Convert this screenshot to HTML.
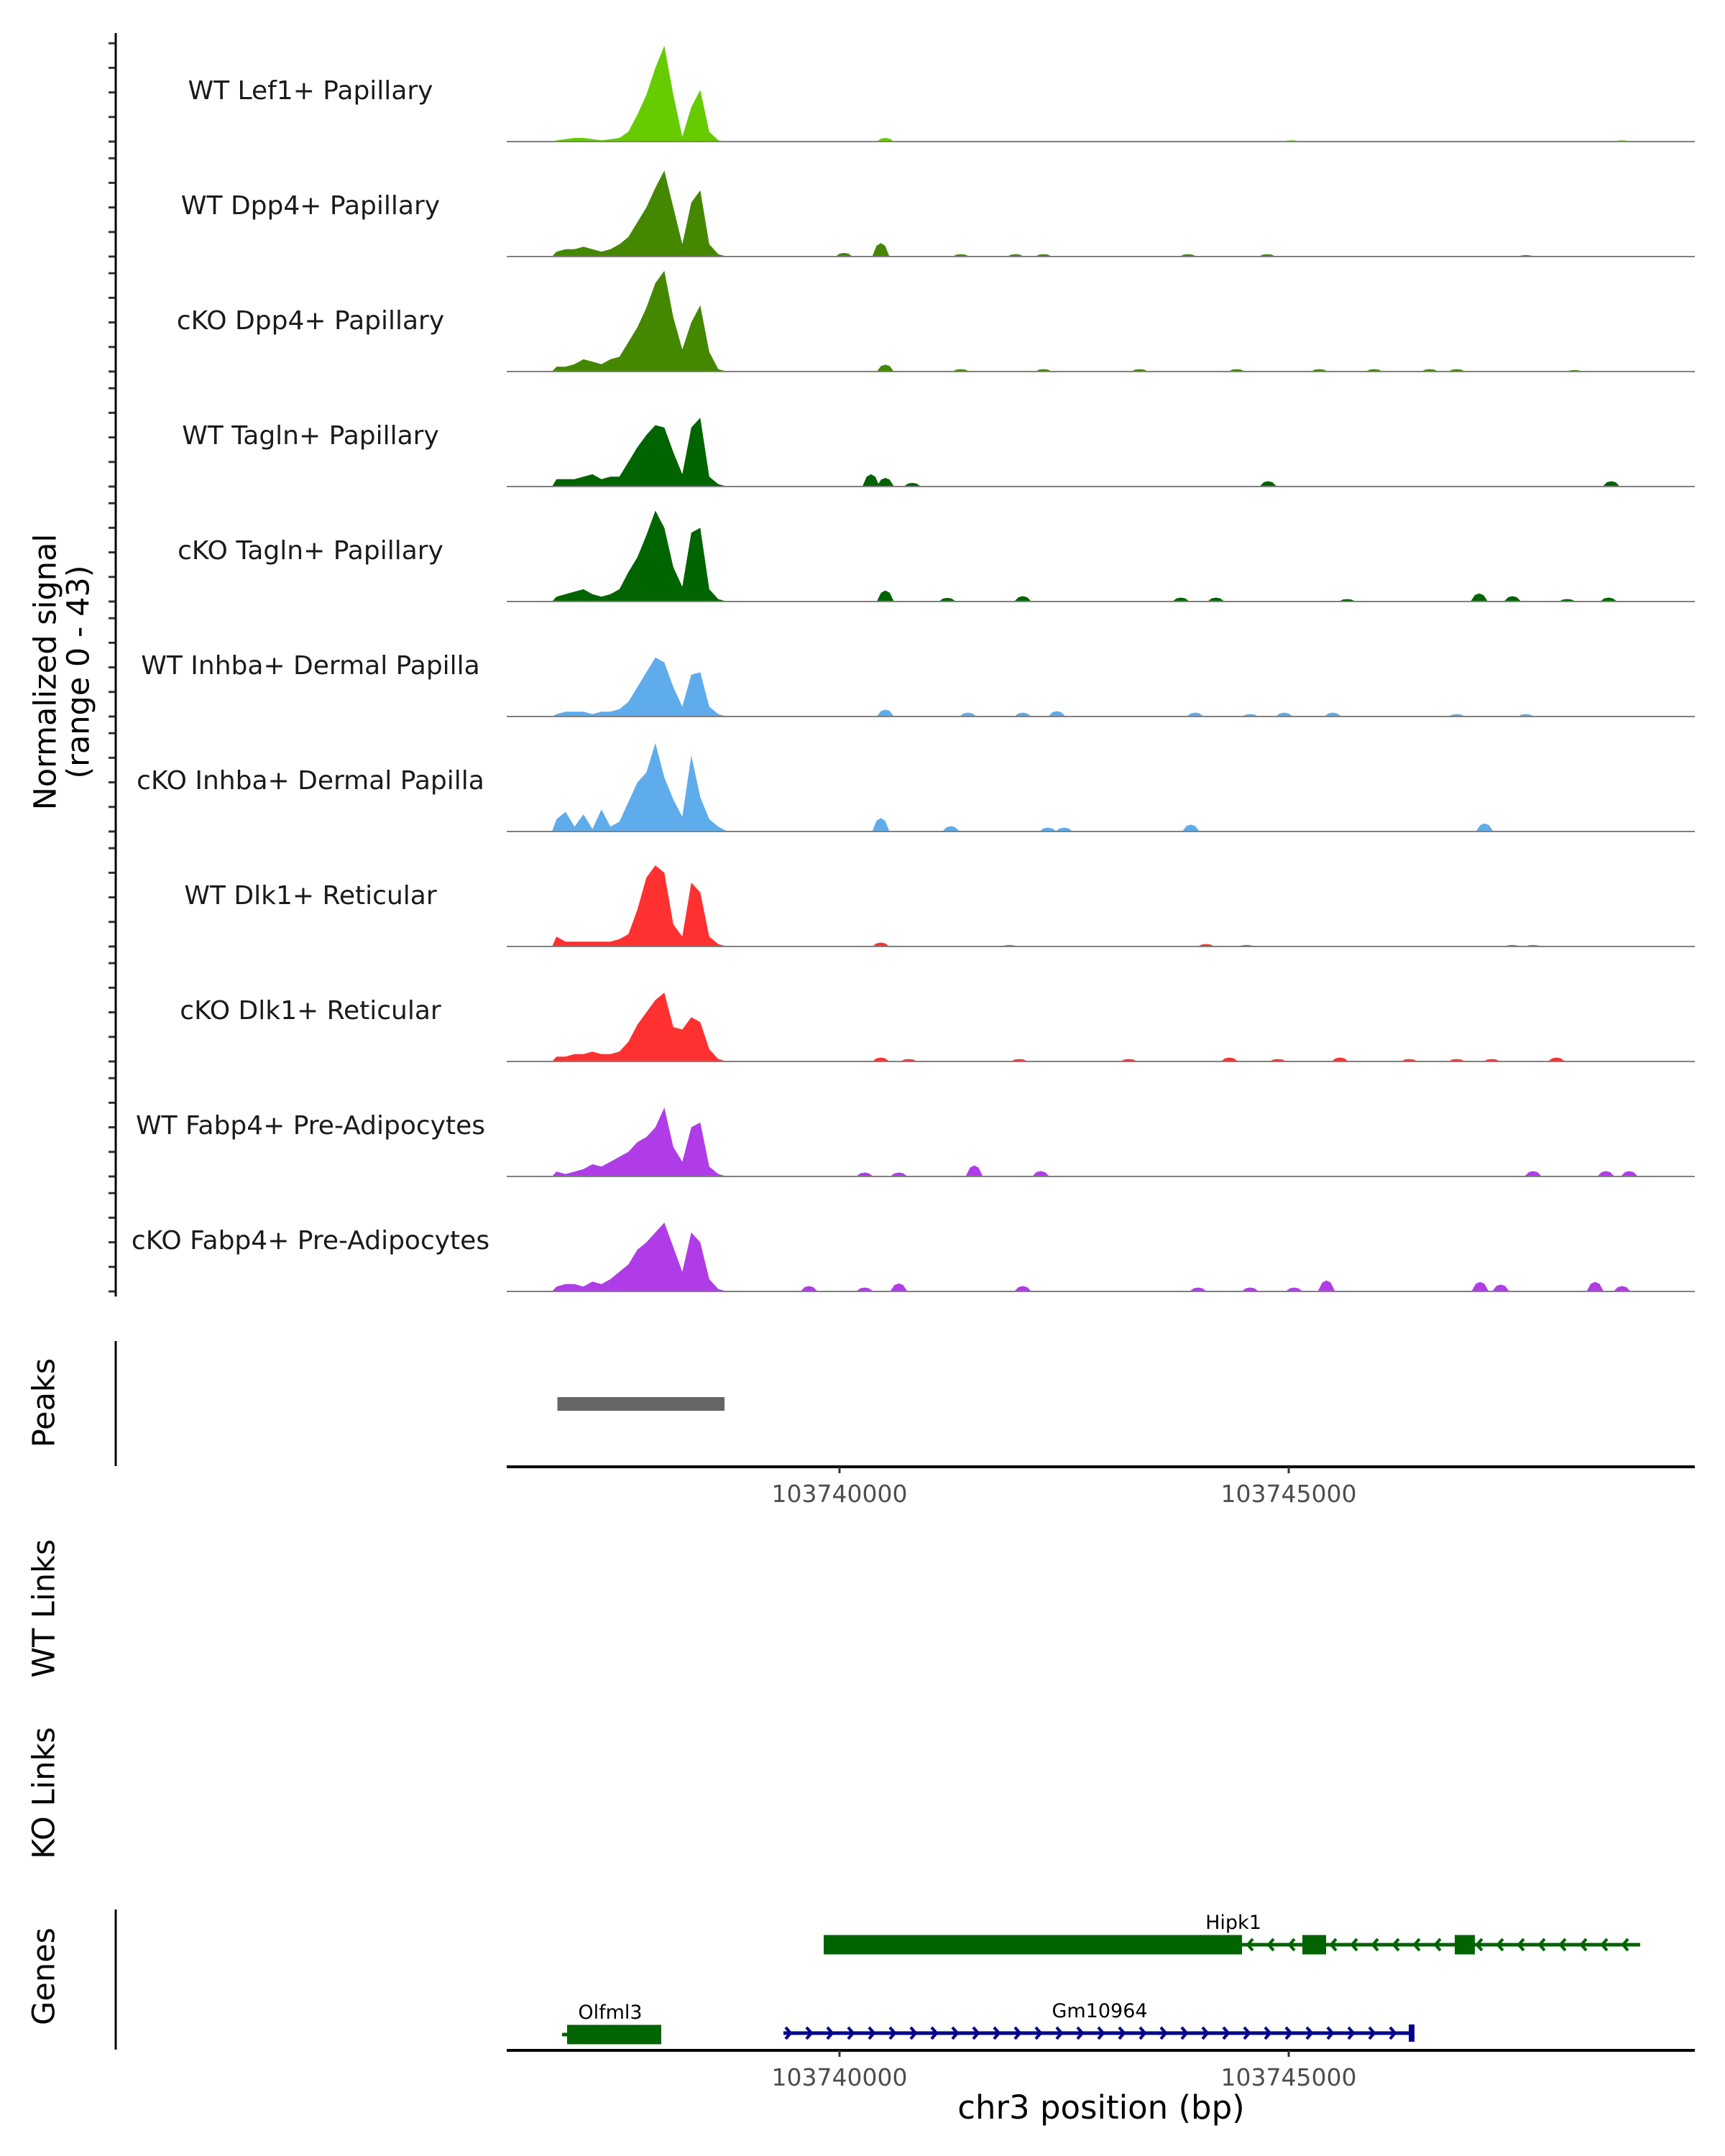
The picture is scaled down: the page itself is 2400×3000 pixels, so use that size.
<!DOCTYPE html>
<html><head><meta charset="utf-8"><style>
html,body{margin:0;padding:0;background:#fff;}
svg{display:block;font-family:"DejaVu Sans","Liberation Sans",sans-serif;}
</style></head><body>
<svg id="chart" width="2400" height="3000" viewBox="0 0 2400 3000" xmlns="http://www.w3.org/2000/svg">
<g id="tracks"></g>
<g id="axes"></g>
</svg>
<script>
// ---- data ----
const trackNames = ["WT Lef1+ Papillary","WT Dpp4+ Papillary","cKO Dpp4+ Papillary","WT Tagln+ Papillary","cKO Tagln+ Papillary","WT Inhba+ Dermal Papilla","cKO Inhba+ Dermal Papilla","WT Dlk1+ Reticular","cKO Dlk1+ Reticular","WT Fabp4+ Pre-Adipocytes","cKO Fabp4+ Pre-Adipocytes"];
const trackColors = ["#66cc00","#448800","#448800","#006400","#006400","#5eacec","#5eacec","#ff3030","#ff3030","#b03ce8","#b03ce8"];
const mainBinStart = 103736800; // bp, 100bp bins
const mainBinSize = 100;
const main0 = [0.5,1,1.5,1.5,1,0.5,1,1.5,4,11,19,30,39,19,2,14,21,4,0.5,0];
const main1 = [2,3,3,4,3,2,3,5,8,14,20,28,35,20,5,22,27,5,1,0];
const main2 = [2,2,3,5,4,3,5,6,12,18,26,36,41,22,9,20,27,8,1,0];
const main3 = [3,3,3,4,5,3,4,4,10,16,21,25,24,14,5,24,28,4,1,0];
const main4 = [2,3,4,5,3,2,3,5,12,18,27,37,30,14,6,28,30,5,1,0];
const main5 = [1,2,2,2,1,2,2,3,6,12,18,24,22,12,4,17,18,4,1,0];
const main6 = [5,8,2,7,1,9,2,4,12,20,24,36,22,13,6,31,14,5,2,0];
const main7 = [4,2,2,2,2,2,2,3,5,15,28,33,30,9,4,26,22,4,1,0];
const main8 = [2,2,3,3,4,3,3,4,8,15,20,25,28,14,13,18,16,5,1,0];
const main9 = [2,1,2,3,5,4,6,8,10,14,16,20,28,12,6,20,22,4,1,0];
const main10 = [2,3,3,2,4,3,5,8,11,17,20,24,28,18,8,24,20,5,1,0];
const mains = [main0,main1,main2,main3,main4,main5,main6,main7,main8,main9,main10];
// small bumps: positions in kb, heights in signal units
const bumpPos0 = [103740.51,103745.03,103748.71];
const bumpVal0 = [1.5,0.5,0.5];
const bumpPos1 = [103740.05,103740.46,103741.35,103741.96,103742.27,103743.88,103744.76,103747.64];
const bumpVal1 = [1.5,5.5,1,1,1,1,1,0.6];
const bumpPos2 = [103740.51,103741.35,103742.27,103743.34,103744.42,103745.34,103745.95,103746.57,103746.87,103748.18];
const bumpVal2 = [2.8,1,1,1,1,1,1,1,1,0.6];
const bumpPos3 = [103740.35,103740.51,103740.81,103744.77,103748.59];
const bumpVal3 = [5,3.5,1.5,2.2,2.2];
const bumpPos4 = [103740.51,103741.20,103742.04,103743.80,103744.19,103745.65,103747.12,103747.49,103748.10,103748.56];
const bumpVal4 = [4.5,1.5,2.2,1.6,1.6,1,3.3,2.2,1,1.6];
const bumpPos5 = [103740.51,103741.43,103742.04,103742.42,103743.96,103744.57,103744.95,103745.49,103746.87,103747.64];
const bumpVal5 = [2.8,1.6,1.6,2.2,1.6,1,1.6,1.6,1,1];
const bumpPos6 = [103740.46,103741.24,103742.32,103742.50,103743.91,103747.18];
const bumpVal6 = [5.5,2.2,1.6,1.6,2.8,3.3];
const bumpPos7 = [103740.46,103741.89,103744.08,103744.53,103747.49,103747.72];
const bumpVal7 = [1.6,0.6,1,0.6,0.6,0.6];
const bumpPos8 = [103740.46,103740.77,103742.00,103743.22,103744.34,103744.88,103745.57,103746.34,103746.87,103747.26,103747.98];
const bumpVal8 = [1.6,1,1,1,1.6,1,1.6,1,1,1,1.6];
const bumpPos9 = [103740.28,103740.66,103741.50,103742.24,103747.72,103748.53,103748.79];
const bumpVal9 = [1.6,1.6,4.5,2.2,2.2,2.2,2.2];
const bumpPos10 = [103739.66,103740.28,103740.66,103742.04,103743.99,103744.57,103745.06,103745.42,103747.13,103747.36,103748.41,103748.71];
const bumpVal10 = [2.2,1.6,3.3,2.2,1.6,1.6,1.6,4.5,3.9,2.8,3.9,2.2];
const bumpPos = [bumpPos0,bumpPos1,bumpPos2,bumpPos3,bumpPos4,bumpPos5,bumpPos6,bumpPos7,bumpPos8,bumpPos9,bumpPos10];
const bumpVal = [bumpVal0,bumpVal1,bumpVal2,bumpVal3,bumpVal4,bumpVal5,bumpVal6,bumpVal7,bumpVal8,bumpVal9,bumpVal10];
const xTicks = [103740000,103745000];
const peakStart = [103736860];
const peakEnd = [103738720];
const yMax = 43;

// ---- scales ----
const X0 = 705, X1 = 2358;
const bp0 = 103736296, bpPerPx = 8.0;
function x(bp){ return X0 + (bp - bp0) / bpPerPx; }
const base0 = 197, trackStep = 160.0, unitPx = 3.42;
function yb(i){ return base0 + i*trackStep; }
function yv(i,v){ return yb(i) - v*unitPx; }

const NS = "http://www.w3.org/2000/svg";
function mk(tag, parent, attrs){ const e = document.createElementNS(NS, tag); for (const k in attrs) e.setAttribute(k, attrs[k]); parent.appendChild(e); return e; }
const gT = document.getElementById('tracks');
const gA = document.getElementById('axes');

trackNames.forEach((name, i) => {
  const g = mk('g', gT, {});
  
  
  const vals = mains[i];
  let d = 'M' + x(mainBinStart).toFixed(1) + ',' + yb(i);
  vals.forEach((v, j) => {
    const cx = x(mainBinStart + j*mainBinSize + mainBinSize/2);
    d += ' L' + cx.toFixed(1) + ',' + yv(i, v).toFixed(1);
  });
  d += ' L' + x(mainBinStart + vals.length*mainBinSize).toFixed(1) + ',' + yb(i) + ' Z';
  const area = mk('path', g, {d: d, fill: trackColors[i]});
  
  
  bumpPos[i].forEach((p, j) => {
    const c = x(p*1000), v = bumpVal[i][j];
    const bd = 'M' + (c-12).toFixed(1) + ',' + yb(i) + ' L' + (c-6).toFixed(1) + ',' + yv(i,v*0.8).toFixed(1) + ' L' + c.toFixed(1) + ',' + yv(i,v).toFixed(1) + ' L' + (c+6).toFixed(1) + ',' + yv(i,v*0.8).toFixed(1) + ' L' + (c+12).toFixed(1) + ',' + yb(i) + ' Z';
    const b = mk('path', g, {d: bd, fill: trackColors[i]});
    
    
  });
  const bl = mk('line', g, {x1: X0, x2: X1, y1: yb(i), y2: yb(i), stroke: '#808080', 'stroke-width': 2});
  
  
  const t = mk('text', g, {x: 432, y: yb(i) - 59, 'text-anchor': 'middle', 'font-size': 36, fill: '#1a1a1a'});
  t.textContent = name;
  
  
  for (let k = 0; k <= 4; k++) {
    const ty = yb(i) - k*10*unitPx;
    const tk = mk('line', gA, {x1: 151, x2: 160, y1: ty, y2: ty, stroke: '#333', 'stroke-width': 3});
    
    
  }
});

const ya = mk('line', gA, {x1: 161, x2: 161, y1: 46, y2: 1804, stroke: '#000', 'stroke-width': 3});


function rotText(txt, cx, cy, fs, nm){
  const t = mk('text', gA, {x: cx, y: cy, 'text-anchor': 'middle', 'font-size': fs, fill: '#000', transform: 'rotate(-90 ' + cx + ' ' + cy + ')', 'dominant-baseline': 'middle'});
  t.textContent = txt;
  
  
}
rotText('Normalized signal', 66, 935, 43, 'y-axis-title');
rotText('(range 0 - 43)', 112, 935, 43, 'y-axis-range');
rotText('Peaks', 64, 1952, 43, 'peaks-label');
rotText('WT Links', 64, 2238, 43, 'wt-links-label');
rotText('KO Links', 64, 2495, 43, 'ko-links-label');
rotText('Genes', 64, 2750, 43, 'genes-label');

const pa = mk('line', gA, {x1: 161, x2: 161, y1: 1866, y2: 2040, stroke: '#000', 'stroke-width': 3});


peakStart.forEach((s, j) => {
  const r = mk('rect', gA, {x: x(s), y: 1944, width: x(peakEnd[j]) - x(s), height: 19, fill: '#666666'});
  
  
});
function xAxis(yA, nm){
  const l = mk('line', gA, {x1: X0, x2: X1, y1: yA, y2: yA, stroke: '#000', 'stroke-width': 4});
  
  
  xTicks.forEach(tv => {
    const tk = mk('line', gA, {x1: x(tv), x2: x(tv), y1: yA, y2: yA + 9, stroke: '#333', 'stroke-width': 3});
    
    
    const tl = mk('text', gA, {x: x(tv), y: yA + 49, 'text-anchor': 'middle', 'font-size': 33, fill: '#4d4d4d'});
    tl.textContent = tv;
    
    
  });
}
xAxis(2041, 'peaks-x-axis');

const ga = mk('line', gA, {x1: 161, x2: 161, y1: 2657, y2: 2852, stroke: '#000', 'stroke-width': 3});


xAxis(2853, 'genes-x-axis');
const xt = mk('text', gA, {x: 1532, y: 2948, 'text-anchor': 'middle', 'font-size': 45, fill: '#000'});
xt.textContent = 'chr3 position (bp)';



function chev(cx, cy, dir, col){
  const s = 7*dir;
  const p = mk('polyline', gA, {points: (cx - s) + ',' + (cy - 8) + ' ' + cx + ',' + cy + ' ' + (cx - s) + ',' + (cy + 8), fill: 'none', stroke: col, 'stroke-width': 4});
  
  
}
function gene(name, s, e, yc, col, dir, exons, lblX){
  const g = mk('g', gA, {});
  
  
  const ln = mk('line', g, {x1: s, x2: e, y1: yc, y2: yc, stroke: col, 'stroke-width': 5});
  
  
  exons.forEach(ex => {
    const r = mk('rect', g, {x: ex[0], y: yc - ex[2]/2, width: ex[1] - ex[0], height: ex[2], fill: col});
    
    
  });
  for (let cx = s + 10; cx < e - 5; cx += 29) chev(cx, yc, dir, col);
  const t = mk('text', g, {x: lblX, y: yc - 22, 'text-anchor': 'middle', 'font-size': 27, fill: '#000'});
  t.textContent = name;
  
  
}
gene('Hipk1', 1146, 2282, 2706, '#006400', -1, [[1146,1728,27],[1812,1845,27],[2024,2052,27]], 1716);
gene('Olfml3', 782, 920, 2831, '#006400', -1, [[789,920,27]], 849);
gene('Gm10964', 1090, 1968, 2829, '#00008b', 1, [[1960,1968,24]], 1530);
</script>
</body></html>
